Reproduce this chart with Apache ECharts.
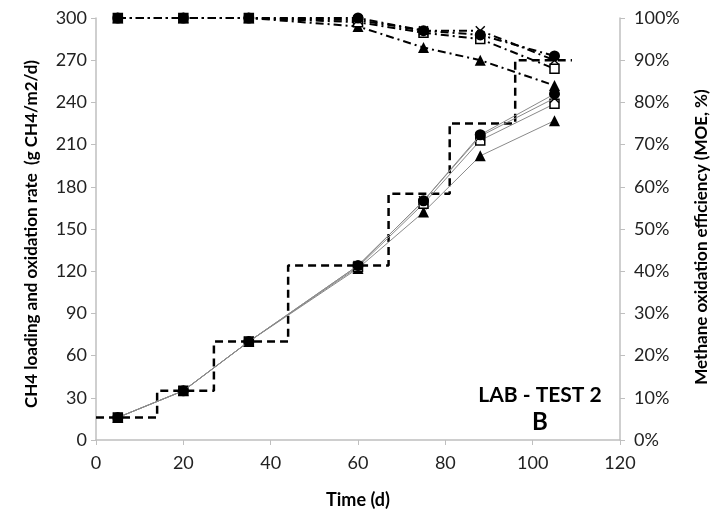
<!DOCTYPE html>
<html><head><meta charset="utf-8">
<script src="https://cdn.jsdelivr.net/npm/echarts@6/dist/echarts.min.js"></script>
<style>html,body{margin:0;padding:0;background:#fff}#c{width:717px;height:514px}</style>
</head><body><div id="c"></div>
<script>
const days = [5, 20, 35, 60, 75, 88, 105];
const rateCircle   = [16, 35, 70, 124, 170, 217, 246];
const rateCross    = [16, 35, 70, 124, 170, 216, 243];
const rateSquare   = [16, 35, 70, 123, 168, 213, 239];
const rateTriangle = [16, 35, 70, 122, 162, 202, 227];
const moeCircle    = [1.00, 1.00, 1.00, 1.00, 0.97, 0.96, 0.91];
const moeCross     = [1.00, 1.00, 1.00, 0.995, 0.97, 0.97, 0.90];
const moeSquare    = [1.00, 1.00, 1.00, 0.99, 0.965, 0.95, 0.88];
const moeTriangle  = [1.00, 1.00, 1.00, 0.98, 0.93, 0.90, 0.84];
const loadDays   = [0, 14, 27, 44, 67, 81, 96, 109];
const loadValues = [16, 35, 70, 124, 175, 225, 270, 270];
const xTicks = [0, 20, 40, 60, 80, 100, 120];
const leftTicks = [0, 30, 60, 90, 120, 150, 180, 210, 240, 270, 300];
const rightTicks = ['0%','10%','20%','30%','40%','50%','60%','70%','80%','90%','100%'];

const FONT = 'Lato, "Open Sans", sans-serif';
const crossPath = 'path://M1 0 L5 4 L9 0 L10 1 L6 5 L10 9 L9 10 L5 6 L1 10 L0 9 L4 5 L0 1 Z';
const zip = (xs, ys) => xs.map((x, i) => [x, ys[i]]);

const markers = [
  {sym: 'circle', size: 11, fill: '#000', z: 9},
  {sym: crossPath, size: 10, fill: '#000', z: 8},
  {sym: 'rect', size: 9, fill: '#fff', z: 7},
  {sym: 'triangle', size: 11, fill: '#000', z: 6}
];
const rates = [rateCircle, rateCross, rateSquare, rateTriangle];
const moes = [moeCircle, moeCross, moeSquare, moeTriangle];

const series = [];
series.push({
  type: 'line', name: 'loading', data: zip(loadDays, loadValues), step: 'end',
  symbol: 'none', lineStyle: {color: '#000', width: 2.5, type: [8, 5]}, z: 2
});
rates.forEach((r, i) => {
  series.push({
    type: 'line', data: zip(days, r), symbol: markers[i].sym, symbolSize: markers[i].size,
    lineStyle: {color: '#8a8a8a', width: 1},
    itemStyle: {color: markers[i].fill, borderColor: '#000', borderWidth: markers[i].sym === 'rect' ? 1.5 : 0},
    z: markers[i].z
  });
});
moes.forEach((m, i) => {
  series.push({
    type: 'line', yAxisIndex: 1, data: zip(days, m), symbol: markers[i].sym, symbolSize: markers[i].size,
    lineStyle: {color: '#000', width: 2, type: [8, 4, 2, 4]},
    itemStyle: {color: markers[i].fill, borderColor: '#000', borderWidth: markers[i].sym === 'rect' ? 1.5 : 0},
    z: markers[i].z
  });
});

const axisLine = {show: true, lineStyle: {color: '#bfbfbf', width: 1.5}};
const axisTick = {show: true, length: 5, lineStyle: {color: '#bfbfbf'}};
const chart = echarts.init(document.getElementById('c'), null, {renderer: 'canvas'});
chart.setOption({
  animation: false,
  backgroundColor: '#fff',
  grid: {left: 96, right: 97, top: 18, bottom: 73},
  xAxis: {
    type: 'value', min: xTicks[0], max: xTicks[xTicks.length - 1], interval: 20,
    name: 'Time (d)', nameLocation: 'middle', nameGap: 51,
    nameTextStyle: {fontFamily: FONT, fontSize: 18, fontWeight: 'bold', color: '#000'},
    axisLine, axisTick, splitLine: {show: false},
    axisLabel: {fontFamily: FONT, fontSize: 18, color: '#222', margin: 14}
  },
  yAxis: [{
    type: 'value', min: leftTicks[0], max: leftTicks[leftTicks.length - 1], interval: 30,
    axisLine, axisTick, splitLine: {show: false},
    axisLabel: {fontFamily: FONT, fontSize: 18, color: '#222', margin: 9}
  }, {
    type: 'value', min: 0, max: 1, interval: 0.1, position: 'right',
    axisLine, axisTick, splitLine: {show: false},
    axisLabel: {fontFamily: FONT, fontSize: 18, color: '#222', margin: 14,
      formatter: v => rightTicks[Math.round(v * 10)]}
  }],
  graphic: [
    {type: 'text', x: 32, y: 234, rotation: Math.PI / 2,
     style: {text: 'CH4 loading and oxidation rate  (g CH4/m2/d)', font: 'bold 17px ' + FONT, fill: '#000',
             align: 'center', verticalAlign: 'middle'}},
    {type: 'text', x: 702, y: 237, rotation: Math.PI / 2,
     style: {text: 'Methane oxidation efficiency (MOE, %)', font: 'bold 17px ' + FONT, fill: '#000',
             align: 'center', verticalAlign: 'middle'}},
    {type: 'text', x: 540, y: 395, style: {text: 'LAB - TEST 2', font: 'bold 21px ' + FONT, fill: '#000', align: 'center', verticalAlign: 'middle'}},
    {type: 'text', x: 540, y: 422, style: {text: 'B', font: 'bold 24px ' + FONT, fill: '#000', align: 'center', verticalAlign: 'middle'}}
  ],
  series
});
</script></body></html>
